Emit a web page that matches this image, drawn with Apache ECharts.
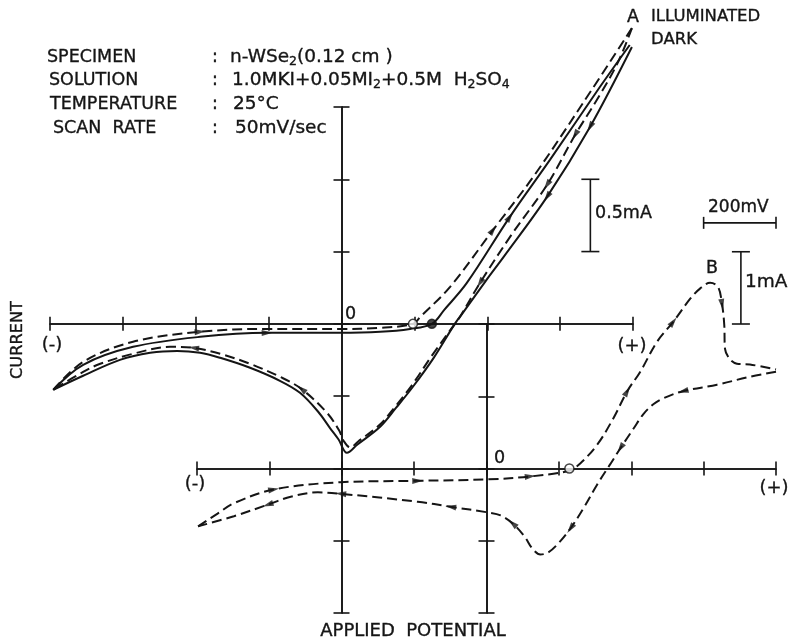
<!DOCTYPE html>
<html><head><meta charset="utf-8">
<script src="https://cdn.jsdelivr.net/npm/echarts@6/dist/echarts.min.js"></script>
<style>html,body{margin:0;padding:0;background:#fff}#c{width:789px;height:639px}</style>
</head><body><div id="c"></div>
<script>
// ---- data (potential in mV, current in mA) ----
// n-WSe2 electrode, upper axes (0.5 mA per division)
const darkForward = [[-791,-0.456],[-709,-0.283],[-572,-0.159],[-388,-0.090],[-204,-0.062],[-4,-0.062],[106,-0.055],[188,-0.035],[248,0],[282,0.097],[344,0.283],[462,0.740],[572,1.134],[709,1.638],[791,1.929]];
const darkReverse = [[797,1.915],[682,1.362],[564,0.878],[445,0.463],[398,0.304],[333,0.076],[311,0],[253,-0.235],[196,-0.435],[150,-0.58],[106,-0.712],[43,-0.836],[15,-0.892],[-8,-0.80],[-32,-0.719],[-64,-0.608],[-114,-0.477],[-169,-0.394],[-251,-0.304],[-333,-0.235],[-388,-0.200],[-451,-0.187],[-525,-0.200],[-608,-0.249],[-709,-0.359],[-791,-0.456]];
const illumForward = [[-791,-0.456],[-709,-0.263],[-572,-0.124],[-388,-0.055],[-204,-0.035],[-4,-0.035],[106,-0.028],[196,0],[216,0.048],[298,0.256],[416,0.650],[526,1.016],[663,1.528],[797,2.046]];
const illumReverse = [[797,2.046],[759,1.811],[709,1.583],[641,1.306],[564,0.961],[470,0.629],[380,0.283],[325,0.048],[303,-0.028],[248,-0.22],[193,-0.425],[148,-0.57],[104,-0.70],[45,-0.815],[24,-0.855],[6,-0.81],[-6,-0.74],[-40,-0.615],[-110,-0.45],[-169,-0.366],[-251,-0.276],[-333,-0.207],[-406,-0.166],[-470,-0.159],[-572,-0.207],[-662,-0.276],[-709,-0.332],[-791,-0.456]];
const illumOnset = [[196,0]];
const darkOnset = [[248,0]];
// reference curve, lower axes (1 mA per division)
const refForward = [[-797,-0.80],[-742,-0.62],[-698,-0.48],[-588,-0.29],[-403,-0.19],[-190,-0.17],[6,-0.15],[121,-0.11],[229,-0.03],[259,0.07],[306,0.33],[350,0.69],[389,1.07],[425,1.34],[472,1.76],[516,2.03],[563,2.35],[590,2.49],[618,2.57],[640,2.51],[651,2.27],[657,1.99],[659,1.66],[673,1.51],[692,1.45],[728,1.44],[800,1.37]];
const refReverse = [[800,1.34],[728,1.27],[637,1.16],[543,1.07],[488,0.97],[461,0.89],[433,0.75],[406,0.55],[370,0.28],[342,0.06],[306,-0.22],[268,-0.55],[232,-0.83],[196,-1.05],[171,-1.16],[149,-1.19],[127,-1.11],[105,-0.94],[72,-0.76],[39,-0.65],[6,-0.61],[-99,-0.53],[-190,-0.46],[-403,-0.35],[-466,-0.33],[-541,-0.39],[-604,-0.50],[-698,-0.66],[-797,-0.80]];
const refOnset = [[229,0]];
// direction arrows: indices of the points (along each scan) that carry an arrowhead
const darkForwardArrows = [4, 11];
const darkReverseArrows = [1, 2];
const illumForwardArrows = [3, 10];
const illumReverseArrows = [3, 4, 6, 18, 22];
const refForwardArrows = [3, 5, 7, 12, 15, 20];
const refReverseArrows = [3, 8, 12, 18, 21, 23, 26];
// scale bars
const barHalfMilliamp = [[683,0.5],[683,1.0]];   // upper axes
const barOneMilliamp = [[703,2],[703,3]];        // lower axes
const bar200mV = [[600,3.4],[800,3.4]];          // lower axes
// axis ranges / ticks
const potentialRange = [-800, 800], potentialStep = 200;
const upperCurrentRange = [-2, 1.5], upperCurrentStep = 0.5;
const lowerCurrentRange = [-2, 2], lowerCurrentStep = 1;

const F = '"DejaVu Sans", "Liberation Sans", sans-serif';
const INK = '#151515';
const chart = echarts.init(document.getElementById('c'), null, {renderer:'canvas'});

function xAx(grid, inside, zeroIdx){
  return {type:'value', gridIndex:grid, position:'bottom', min:potentialRange[0], max:potentialRange[1], interval:potentialStep,
    axisLine:{onZero:true, onZeroAxisIndex:zeroIdx, lineStyle:{color:INK, width:1.6}},
    axisTick:{show:true, inside:inside, length:7, lineStyle:{color:INK, width:1.6}},
    axisLabel:{show:false}, splitLine:{show:false}};
}
function yAx(grid, inside, range, step, zeroIdx){
  return {type:'value', gridIndex:grid, position:'left', min:range[0], max:range[1], interval:step,
    axisLine:{onZero:true, onZeroAxisIndex:zeroIdx, lineStyle:{color:INK, width:1.6}},
    axisTick:{show:true, inside:inside, length:8, lineStyle:{color:INK, width:1.6}},
    axisLabel:{show:false}, splitLine:{show:false}};
}
const dash = [10,5];
function curve(data, xi, yi, dashed){
  return {type:'line', data:data, xAxisIndex:xi, yAxisIndex:yi, smooth:0.35, symbol:'none', clip:false, silent:true,
    lineStyle:{color:INK, width:2, type: dashed ? dash : 'solid'}, z:3};
}
function bar(data, xi, yi, vertical){
  return {type:'line', data:data, xAxisIndex:xi, yAxisIndex:yi, symbol:'rect', showSymbol:true,
    symbolSize: vertical ? [18,1.6] : [1.6,12], clip:false, silent:true,
    itemStyle:{color:INK}, lineStyle:{color:INK, width:1.6}};
}
function dots(data, xi, yi, filled){
  return {type:'scatter', data:data, xAxisIndex:xi, yAxisIndex:yi, symbol:'circle', symbolSize:9, clip:false, silent:true,
    itemStyle:{color: filled ? INK : '#fff', borderColor:INK, borderWidth:1.5}, z:5};
}
function font(sz){ return sz+'px '+F; }
function txt(s, x, y, sz, align){
  return {type:'text', x:x, y:y, silent:true,
    style:{text:s, fill:INK, stroke:INK, lineWidth:0.35, font:font(sz||17.5), textAlign:align||'left', textVerticalAlign:'middle'}};
}
const rich = {a:{fontSize:18.5, fontFamily:F, color:INK, lineHeight:22},
              s:{fontSize:12.5, fontFamily:F, color:INK, lineHeight:22, verticalAlign:'bottom', padding:[9,0,0,0]}};
function richTxt(s, x, y){
  return {type:'text', x:x, y:y, silent:true, style:{text:s, rich:rich, fill:INK, stroke:INK, lineWidth:0.35, font:font(18.5), textVerticalAlign:'middle'}};
}

const curveSeries = [
  [darkForward,0,0,false,darkForwardArrows], [darkReverse,0,0,false,darkReverseArrows],
  [illumForward,0,0,true,illumForwardArrows], [illumReverse,0,0,true,illumReverseArrows],
  [refForward,2,2,true,refForwardArrows], [refReverse,2,2,true,refReverseArrows]
];

chart.setOption({
  animation:false,
  backgroundColor:'#fff',
  grid:[{left:50, top:107, width:583, height:506},
        {left:197, top:324, width:579, height:289}],
  xAxis:[xAx(0,false,0), xAx(0,true,1), xAx(1,false,2), xAx(1,true,3)],
  yAxis:[yAx(0,false,upperCurrentRange,upperCurrentStep,0), yAx(0,true,upperCurrentRange,upperCurrentStep,1),
         yAx(1,false,lowerCurrentRange,lowerCurrentStep,2), yAx(1,true,lowerCurrentRange,lowerCurrentStep,3)],
  series: curveSeries.map(c => curve(c[0],c[1],c[2],c[3])).concat([
    dots(illumOnset,0,0,false), dots(darkOnset,0,0,true), dots(refOnset,2,2,false),
    bar(barHalfMilliamp,0,0,true), bar(bar200mV,2,2,false), bar(barOneMilliamp,2,2,true)
  ]),
  graphic:[
    txt('SPECIMEN',47,57), txt('SOLUTION',49,80), txt('TEMPERATURE',50,104), txt('SCAN  RATE',53,128),
    txt(':',212,57), txt(':',212,80), txt(':',212,104), txt(':',212,128),
    richTxt('{a|n-WSe}{s|2}{a|(0.12 cm )}',230,57),
    richTxt('{a|1.0MKI+0.05MI}{s|2}{a|+0.5M  H}{s|2}{a|SO}{s|4}',232,80),
    txt('25°C',233,104,18.5), txt('50mV/sec',235,128,18.5),
    txt('A',627,17), txt('ILLUMINATED',651,17,16.5), txt('DARK',651,40,16.5),
    txt('0.5mA',595,213), txt('200mV',708,208,17), txt('1mA',745,282,18.5), txt('B',706,268),
    txt('0',345,314), txt('0',494,458),
    txt('(-)',52,345,18,'center'), txt('(+)',632,346,18,'center'),
    txt('(-)',195,484,18,'center'), txt('(+)',774,488,18,'center'),
    {type:'text', x:18, y:340, rotation:Math.PI/2, silent:true,
      style:{text:'CURRENT', fill:INK, stroke:INK, lineWidth:0.35, font:font(16.2), textAlign:'center', textVerticalAlign:'middle'}},
    txt('APPLIED  POTENTIAL',413,631,18,'center')
  ]
});

// arrowheads: placed on curve points, oriented along the scan direction in pixel space
const arrowSeries = curveSeries.map(c => {
  const data = c[0], xi = c[1], yi = c[2];
  const items = c[4].map(i => {
    const p0 = chart.convertToPixel({xAxisIndex:xi, yAxisIndex:yi}, data[Math.max(i-1,0)]);
    const p1 = chart.convertToPixel({xAxisIndex:xi, yAxisIndex:yi}, data[Math.min(i+1,data.length-1)]);
    const ang = Math.atan2(-(p1[1]-p0[1]), p1[0]-p0[0]) * 180 / Math.PI;
    return {value:data[i], symbolRotate: ang - 90};
  });
  return {type:'scatter', data:items, xAxisIndex:xi, yAxisIndex:yi, symbol:'triangle', symbolSize:[6,11],
    clip:false, silent:true, itemStyle:{color:INK}, z:6};
});
chart.setOption({series: chart.getOption().series.concat(arrowSeries)});
</script></body></html>
